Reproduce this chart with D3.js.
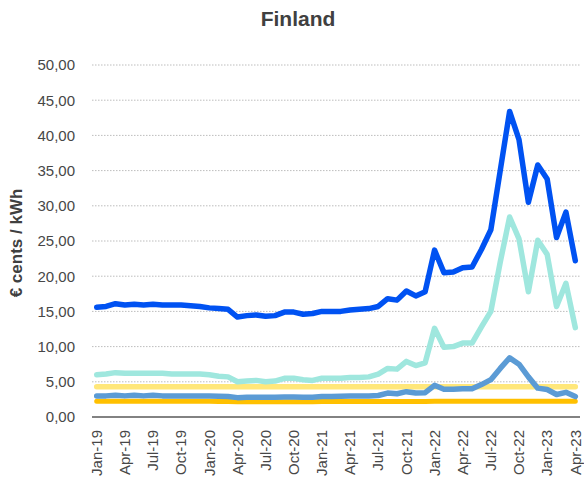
<!DOCTYPE html>
<html><head><meta charset="utf-8">
<script src="https://cdn.jsdelivr.net/npm/d3@7"></script>
<style>body{margin:0;background:#fff}svg{display:block}text{font-family:"Liberation Sans",Arial,sans-serif}</style>
</head><body>
<script>
const months = ["Jan-19","Feb-19","Mar-19","Apr-19","May-19","Jun-19","Jul-19","Aug-19","Sep-19","Oct-19","Nov-19","Dec-19",
"Jan-20","Feb-20","Mar-20","Apr-20","May-20","Jun-20","Jul-20","Aug-20","Sep-20","Oct-20","Nov-20","Dec-20",
"Jan-21","Feb-21","Mar-21","Apr-21","May-21","Jun-21","Jul-21","Aug-21","Sep-21","Oct-21","Nov-21","Dec-21",
"Jan-22","Feb-22","Mar-22","Apr-22","May-22","Jun-22","Jul-22","Aug-22","Sep-22","Oct-22","Nov-22","Dec-22",
"Jan-23","Feb-23","Mar-23","Apr-23"];
const tickLabels = ["Jan-19","Apr-19","Jul-19","Oct-19","Jan-20","Apr-20","Jul-20","Oct-20","Jan-21","Apr-21","Jul-21","Oct-21","Jan-22","Apr-22","Jul-22","Oct-22","Jan-23","Apr-23"];
const yTicks = [0,5,10,15,20,25,30,35,40,45,50];

const seriesDark = [15.6,15.7,16.1,15.9,16.0,15.9,16.0,15.9,15.9,15.9,15.8,15.7,
15.5,15.4,15.3,14.2,14.4,14.5,14.3,14.4,14.9,14.9,14.6,14.7,
15.0,15.0,15.0,15.2,15.3,15.4,15.7,16.8,16.6,17.9,17.2,17.8,
23.7,20.5,20.6,21.2,21.3,23.8,26.6,35.0,43.4,39.4,30.5,35.8,
33.8,25.5,29.1,22.2];
const seriesTeal = [6.0,6.1,6.3,6.2,6.2,6.2,6.2,6.2,6.1,6.1,6.1,6.1,
6.0,5.8,5.7,5.0,5.1,5.2,5.0,5.1,5.5,5.5,5.3,5.2,
5.5,5.5,5.5,5.6,5.6,5.7,6.1,6.9,6.8,7.9,7.3,7.7,
12.6,9.9,10.0,10.5,10.5,12.8,15.0,22.0,28.4,25.3,17.8,25.1,
23.1,15.7,19.0,12.7];
const seriesMid = [3.0,3.0,3.1,3.0,3.1,3.0,3.1,3.0,3.0,3.0,3.0,3.0,
3.0,2.95,2.9,2.75,2.8,2.8,2.8,2.8,2.85,2.85,2.8,2.8,
2.9,2.9,2.95,3.0,3.0,3.0,3.05,3.4,3.3,3.6,3.4,3.45,
4.5,3.95,3.95,4.0,4.0,4.6,5.3,6.9,8.4,7.5,5.7,4.1,
3.9,3.2,3.5,2.9];
const seriesLightYellow = [4.3,4.3,4.3,4.3,4.3,4.3,4.3,4.3,4.3,4.3,4.3,4.3,
4.3,4.3,4.3,4.3,4.3,4.3,4.3,4.3,4.3,4.3,4.3,4.3,
4.3,4.3,4.3,4.3,4.3,4.3,4.3,4.3,4.3,4.3,4.3,4.3,
4.3,4.3,4.3,4.3,4.3,4.3,4.3,4.3,4.3,4.3,4.3,4.3,
4.3,4.3,4.3,4.3];
const seriesOrange = [2.25,2.25,2.25,2.25,2.25,2.25,2.25,2.25,2.25,2.25,2.25,2.25,
2.25,2.2,2.2,2.15,2.15,2.15,2.15,2.15,2.15,2.15,2.15,2.15,
2.2,2.2,2.2,2.2,2.2,2.2,2.2,2.2,2.2,2.2,2.2,2.2,
2.25,2.25,2.25,2.25,2.25,2.25,2.25,2.25,2.25,2.25,2.25,2.25,
2.25,2.25,2.25,2.25];

const W = 584, H = 481;
const svg = d3.select("body").append("svg").attr("width", W).attr("height", H);

const x = d3.scaleBand().domain(months).range([92, 580]).padding(0);
const cx = d => x(d) + x.bandwidth()/2;
const y = d3.scaleLinear().domain([0, 50]).range([417, 65]);

// gridlines
svg.append("g").selectAll("line").data(yTicks.filter(t => t > 0)).join("line")
  .attr("x1", 92).attr("x2", 580)
  .attr("y1", d => y(d)).attr("y2", d => y(d))
  .attr("stroke", "#bdbdbd").attr("stroke-width", 1).attr("stroke-dasharray", "1.5,1.5");

// y axis labels
const yAxis = d3.axisLeft(y).tickValues(yTicks).tickSize(0).tickPadding(0)
  .tickFormat(d => d3.format(".2f")(d).replace(".", ","));
const gy = svg.append("g").attr("transform", "translate(75,0)").call(yAxis);
gy.select(".domain").remove();
gy.selectAll("text").attr("font-size", 15).attr("fill", "#474747").attr("font-family", '"Liberation Sans",Arial,sans-serif');

// x axis
const xAxis = d3.axisBottom(x).tickValues(tickLabels).tickSize(0).tickPadding(0);
const gx = svg.append("g").attr("transform", "translate(0,417)").call(xAxis);
gx.select(".domain").remove();
gx.selectAll("text").attr("font-size", 15).attr("fill", "#474747").attr("font-family", '"Liberation Sans",Arial,sans-serif')
  .attr("transform", "rotate(-90)").attr("text-anchor", "end").attr("dy", "0.35em").attr("x", -13).attr("y", 0);
svg.append("line").attr("x1", 92).attr("x2", 580).attr("y1", 417).attr("y2", 417)
  .attr("stroke", "#595959").attr("stroke-width", 1.3);

const line = d3.line().x((d, i) => cx(months[i])).y(d => y(d));
const series = [
  {v: seriesLightYellow, c: "#FFE77A", w: 5.5},
  {v: seriesOrange, c: "#FFC000", w: 5},
  {v: seriesTeal, c: "#9FE7DE", w: 5.5},
  {v: seriesMid, c: "#5B9BD5", w: 5.5},
  {v: seriesDark, c: "#0052F2", w: 5.5}
];
svg.append("g").selectAll("path").data(series).join("path")
  .attr("d", d => line(d.v)).attr("fill", "none")
  .attr("stroke", d => d.c).attr("stroke-width", d => d.w)
  .attr("stroke-linejoin", "round").attr("stroke-linecap", "round");

// title
svg.append("text").attr("x", 298).attr("y", 26).attr("text-anchor", "middle")
  .attr("font-size", 21).attr("font-weight", "bold").attr("fill", "#404040").text("Finland");

// y axis title
svg.append("text").attr("transform", "translate(22,243) rotate(-90)").attr("text-anchor", "middle")
  .attr("font-size", 17).attr("font-weight", "bold").attr("fill", "#404040").text("€ cents / kWh");
</script>
</body></html>
